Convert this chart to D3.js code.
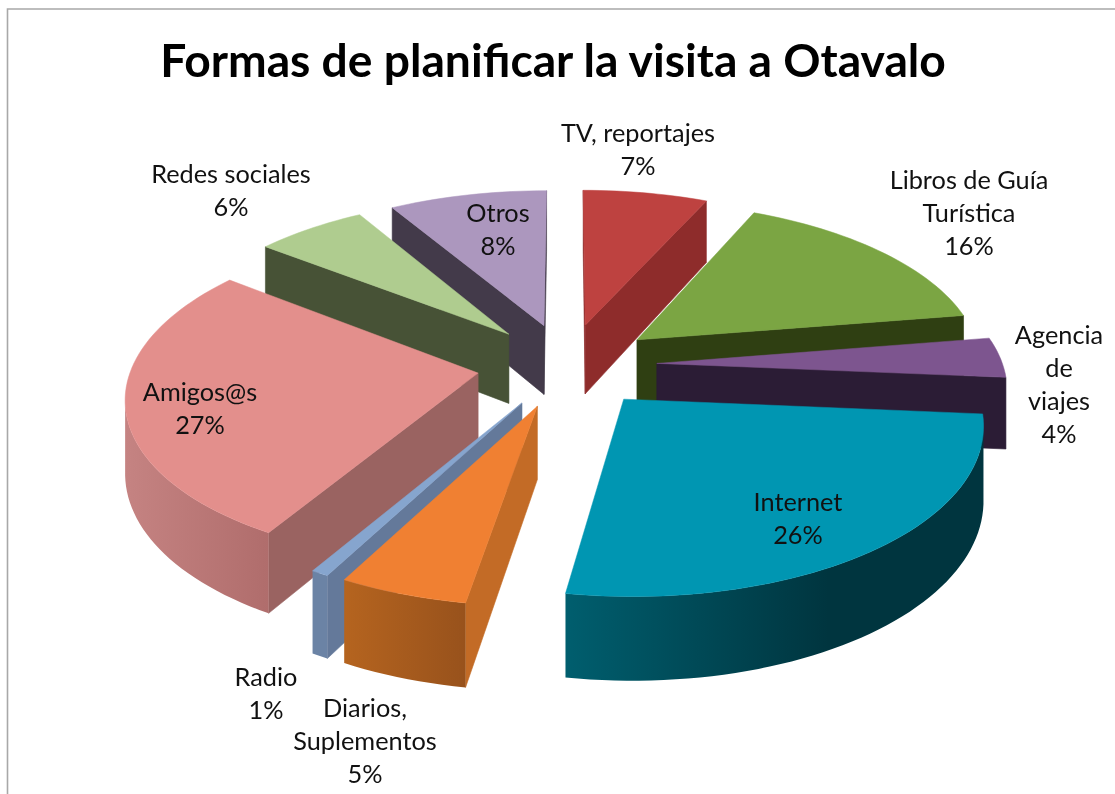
<!DOCTYPE html>
<html><head><meta charset="utf-8">
<script src="https://cdn.jsdelivr.net/npm/d3@7/dist/d3.min.js"></script>
<style>html,body{margin:0;padding:0;background:#fff}svg{display:block;filter:blur(.45px)}text{font-family:Lato,"Open Sans",sans-serif;fill:#111}</style>
</head><body><div id="c"></div>
<script>
const title = "Formas de planificar la visita a Otavalo";
const categories = ["TV, reportajes","Libros de Guía Turística","Agencia de viajes","Internet","Diarios, Suplementos","Radio","Amigos@s","Redes sociales","Otros"];
const values = [6.7,15.7,3.9,26.2,5.1,0.7,27.0,6.0,8.49];
const labelLines = [["TV, reportajes"],["Libros de Guía","Turística"],["Agencia","de","viajes"],["Internet"],["Diarios,","Suplementos"],["Radio"],["Amigos@s"],["Redes sociales"],["Otros"]];
const topColors  = ["#BE4240","#7BA543","#7D558F","#0096B2","#F08032","#86A5CE","#E38F8C","#AFCC8F","#AC97BE"];
const faceColors = ["#8E2C2B","#2F3F12","#2B1C35","#00505E","#C36B26","#64799A","#9A6361","#475236","#433A4A"];
const wallRight  = ["#8E2C2B","#2F3F12","#2B1C35","#00353F","#98521C","#6B83A5","#B06D6C","#475236","#433A4A"];
const wallLeft   = ["#8E2C2B","#2F3F12","#2B1C35","#005E6E","#B5641F","#6B83A5","#C58382","#475236","#433A4A"];
const wallHold   = [1,1,1,.63,1,1,1,1,1];
// label layout (centre x, centre y of the first line)
const labelAnchors = [[638,133],[969,180],[1059,335],[798,502],[365,708],[266,677],[200,392],[231,174],[498,213]];

const W=1115,H=794, cx=567, cy=365, explode=.26, persp=.13, depth=71;
const sx=d3.scaleLinear().domain([-1,1]).range([cx-346,cx+346]);
const sy=d3.scaleLinear().domain([-1,1]).range([cy-162,cy+162]);
const pr=(X,Y,z)=>{const s=1/(1-persp*Y);return [cx+(sx(X)-cx)*s, cy+(sy(Y)-cy)*s+z*depth*s];};
const line=d3.line();
const area=p=>d3.polygonArea(p)*-1; // positive = clockwise on a y-down screen
const svg=d3.select("#c").append("svg").attr("width",W).attr("height",H);
svg.append("rect").attr("width",W).attr("height",H).attr("fill","#fff");
const defs=svg.append("defs");
// sheet border of the original screenshot
svg.append("path").attr("d","M7.5,794V9H1115").attr("fill","none").attr("stroke","#A8A8A8").attr("stroke-width",1.6);
svg.append("text").attr("x",553).attr("y",77).attr("text-anchor","middle").attr("font-size",46.2).attr("font-weight",700).style("fill","#000").text(title);

const arcs=d3.pie().sort(null).startAngle(0).endAngle(2*Math.PI)(values);
const slices=arcs.map((a,i)=>{
  const mid=(a.startAngle+a.endAngle)/2;
  return {i,a0:a.startAngle,a1:a.endAngle,ox:explode*Math.sin(mid),oy:-explode*Math.cos(mid)};
}).sort((p,q)=>p.oy-q.oy);

const layer=svg.selectAll("g.slice").data(slices).join("g").attr("class","slice");
layer.each(function(d){
  const g=d3.select(this);
  const rim=(t,z)=>pr(d.ox+Math.sin(t),d.oy-Math.cos(t),z);
  const apex=z=>pr(d.ox,d.oy,z);
  const n=Math.max(4,Math.ceil((d.a1-d.a0)/0.03));
  const ts=d3.range(n+1).map(k=>d.a0+(d.a1-d.a0)*k/n);
  const draw=(pts,col)=>g.append("path").attr("d",line(pts)+"Z").attr("fill",col).attr("stroke",col).attr("stroke-width",.6);
  const sf=[apex(0),apex(1),rim(d.a0,1),rim(d.a0,0)];
  const ef=[apex(0),rim(d.a1,0),rim(d.a1,1),apex(1)];
  if(area(sf)>0) draw(sf,faceColors[d.i]);
  if(area(ef)>0) draw(ef,faceColors[d.i]);
  // outer wall: the run of arc steps that faces the viewer, shaded left to right
  const vis=ts.filter((t,k)=>{
    const a=ts[Math.max(k-1,0)], b=ts[Math.min(k+1,n)];
    return area([rim(a,0),rim(a,1),rim(b,1),rim(b,0)])>0;
  });
  if(vis.length>1){
    const pts=[...vis.map(t=>rim(t,0)),...vis.slice().reverse().map(t=>rim(t,1))];
    const [x0,x1]=d3.extent(pts,p=>p[0]);
    const id="wall"+d.i;
    const lg=defs.append("linearGradient").attr("id",id).attr("gradientUnits","userSpaceOnUse")
      .attr("x1",x0).attr("x2",x1).attr("y1",0).attr("y2",0);
    lg.append("stop").attr("offset",0).attr("stop-color",wallLeft[d.i]);
    lg.append("stop").attr("offset",wallHold[d.i]).attr("stop-color",wallRight[d.i]);
    lg.append("stop").attr("offset",1).attr("stop-color",wallRight[d.i]);
    g.append("path").attr("d",line(pts)+"Z").attr("fill",`url(#${id})`);
  }
  const top=[apex(0),...ts.map(t=>rim(t,0))];
  g.append("path").attr("d",line(top)+"Z").attr("fill",topColors[d.i]).attr("stroke",topColors[d.i]).attr("stroke-width",.5);
});

const labels=svg.selectAll("g.lab").data(categories).join("g").attr("class","lab");
labels.each(function(c,i){
  const lines=[...labelLines[i],Math.round(values[i])+"%"];
  d3.select(this).selectAll("text").data(lines).join("text")
    .attr("x",labelAnchors[i][0]).attr("y",(l,k)=>labelAnchors[i][1]+k*33).attr("dy",".36em")
    .attr("text-anchor","middle").attr("font-size",25.3).text(l=>l);
});
</script></body></html>
